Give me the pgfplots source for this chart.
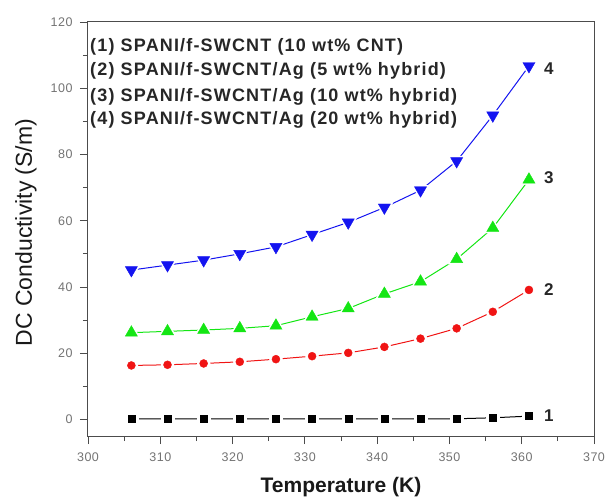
\documentclass[border=0pt]{standalone}
\usepackage{fontspec}
\setmainfont{Liberation Sans}
\usepackage{pgfplots}
\usepackage{pgfplotstable}
\pgfplotsset{compat=1.18}

% DC conductivity versus temperature for the four composites
\pgfplotstableread{
T    s1   s2    s3    s4
306  0.2  16.3  26.2  45.1
311  0.2  16.5  26.6  46.6
316  0.2  16.9  27.0  48.1
321  0.2  17.4  27.5  50.0
326  0.2  18.2  28.3  52.1
331  0.2  19.1  31.0  55.8
336  0.2  20.1  33.5  59.5
341  0.2  21.9  37.9  64.0
346  0.2  24.4  41.6  69.2
351  0.2  27.5  48.4  78.0
356  0.5  32.5  57.8  91.8
361  1.0  39.1  72.4  106.7
}\conddata

\definecolor{sblue}{RGB}{20,20,240}
\definecolor{sgreen}{RGB}{20,230,20}
\definecolor{sred}{RGB}{240,20,20}

\begin{document}
\begin{tikzpicture}[x=1pt,y=1pt]
\path[use as bounding box] (-88,-62) rectangle (519,436);
\begin{axis}[
  scale only axis, width=506pt, height=414pt,
  xmin=300, xmax=370, ymin=-5, ymax=120,
  xtick={300,310,...,370}, ytick={0,20,...,120},
  minor x tick num=1, minor y tick num=1,
  tick align=outside, xtick pos=bottom, ytick pos=left,
  major tick length=8pt, minor tick length=5pt,
  axis line style={draw=black!70, line width=1pt},
  tick style={black!70, line width=0.8pt},
  tick label style={font=\fontsize{12.5}{12.5}\selectfont\addfontfeatures{LetterSpace=4}, text=black!55},
  xticklabel style={yshift=-5pt},
  yticklabel style={xshift=-4pt},
  /pgf/number format/assume math mode=true,
  xlabel={Temperature (K)}, ylabel={DC Conductivity (S/m)},
  xlabel style={at={(axis description cs:0.5,-0.123)}, anchor=center,
    font=\bfseries\fontsize{21}{21}\selectfont, text=black!90},
  ylabel style={at={(axis description cs:-0.1225,0.4915)}, anchor=center,
    font=\fontsize{23}{23}\selectfont, text=black!90},
  clip=false,
]
% connecting lines, white gaps round the symbols, then the symbols
\addplot[black, line width=1pt] table[x=T,y=s1] {\conddata};
\addplot[only marks, mark=square*, mark size=6.5pt, white] table[x=T,y=s1] {\conddata};
\addplot[only marks, mark=square*, mark size=3.5pt, black] table[x=T,y=s1] {\conddata};

\addplot[sred, line width=1pt] table[x=T,y=s2] {\conddata};
\addplot[only marks, mark=*, mark size=6.5pt, white] table[x=T,y=s2] {\conddata};
\addplot[only marks, mark=*, mark size=4pt, sred] table[x=T,y=s2] {\conddata};

\addplot[sgreen, line width=1pt] table[x=T,y=s3] {\conddata};
\addplot[only marks, mark=triangle*, mark size=10pt, white] table[x=T,y=s3] {\conddata};
\addplot[only marks, mark=triangle*, mark size=7pt, sgreen] table[x=T,y=s3] {\conddata};

\addplot[sblue, line width=1pt] table[x=T,y=s4] {\conddata};
\addplot[only marks, mark=triangle*, mark size=10pt, white, mark options={rotate=180}] table[x=T,y=s4] {\conddata};
\addplot[only marks, mark=triangle*, mark size=7pt, sblue, mark options={rotate=180}] table[x=T,y=s4] {\conddata};

% curve numbers
\begin{scope}[every node/.style={anchor=west, font=\bfseries\fontsize{17}{17}\selectfont, text=black!85}]
\node at (axis cs:362.6,1.2) {1};
\node at (axis cs:362.6,39.1) {2};
\node at (axis cs:362.6,73) {3};
\node at (axis cs:362.6,105.8) {4};
\end{scope}

% sample key
\begin{scope}[every node/.style={anchor=west, inner sep=0pt,
    font=\bfseries\fontsize{18}{18}\selectfont\addfontfeatures{LetterSpace=6.5}, text=black!85}]
\node at (rel axis cs:0.004,0.940) {(1) SPANI/f-SWCNT (10 wt\% CNT)};
\node at (rel axis cs:0.004,0.882) {(2) SPANI/f-SWCNT/Ag (5 wt\% hybrid)};
\node at (rel axis cs:0.004,0.820) {(3) SPANI/f-SWCNT/Ag (10 wt\% hybrid)};
\node at (rel axis cs:0.004,0.763) {(4) SPANI/f-SWCNT/Ag (20 wt\% hybrid)};
\end{scope}
\end{axis}
\end{tikzpicture}
\end{document}
